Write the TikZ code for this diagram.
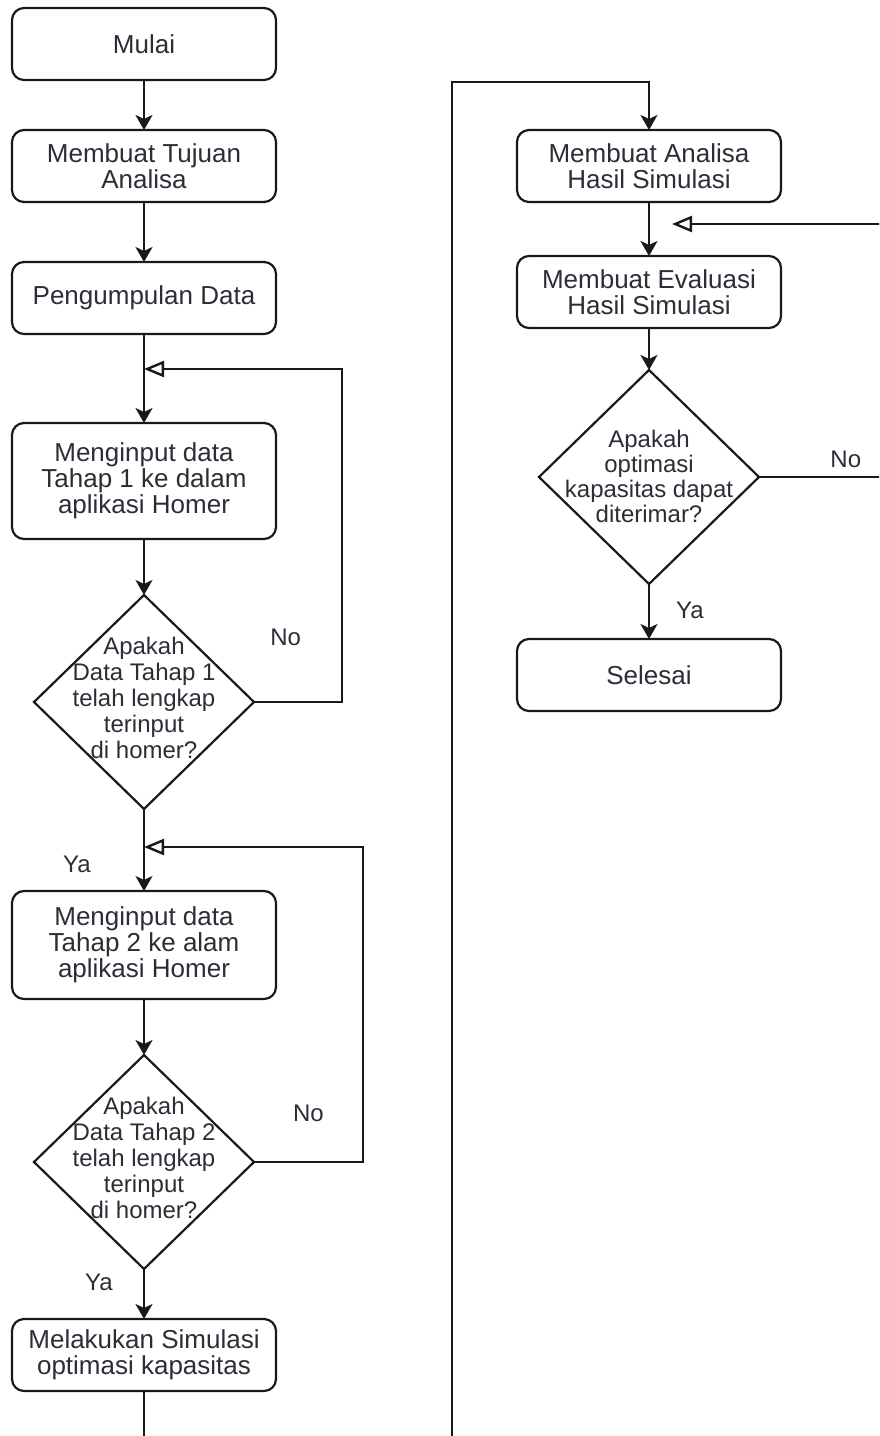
\documentclass[tikz,border=0pt]{standalone}
\usepackage{fontspec}
\setmainfont{Liberation Sans}
\usetikzlibrary{shapes.geometric, arrows.meta, positioning}
\definecolor{garis}{RGB}{25,25,25}
\definecolor{teks}{RGB}{45,45,55}
\newcommand{\tanya}[2][0pt]{\makebox[0pt]{\smash{\raisebox{#1}{\begin{tabular}{@{}c@{}}#2\end{tabular}}}}}
\tikzset{
  proses/.style={rectangle, rounded corners=6pt, draw=garis, fill=white,
    line width=1.1pt, outer sep=0pt, minimum width=132pt, minimum height=36pt,
    align=center, text=teks, font=\fontsize{13}{13}\selectfont},
  keputusan/.style={diamond, draw=garis, fill=white, line width=1.1pt, outer sep=0pt,
    minimum width=110pt, minimum height=107pt, inner sep=0pt,
    text=teks, font=\fontsize{12}{13}\selectfont},
  panah/.style={-{Stealth[length=7.5pt, width=8.5pt, inset=2pt]}, line width=1.2pt, color=garis},
  balik/.style={-{Triangle[open, length=10pt, width=8pt]}, line width=1.2pt, color=garis},
  etiket/.style={font=\fontsize{12}{12}\selectfont, text=teks, inner sep=0pt}
}
\begin{document}
\begin{tikzpicture}[x=0.5pt, y=-0.5pt]
  \useasboundingbox (0,0) rectangle (879,1436);
  \clip (0,0) rectangle (879,1436);
  % kolom kiri
  \node[proses] (mulai) at (144,44) {Mulai};
  \node[proses, below=25pt of mulai] (tujuan) {Membuat Tujuan\\Analisa};
  \node[proses, below=30pt of tujuan] (data) {Pengumpulan Data};
  \node[proses, below=44.5pt of data, minimum height=58pt] (input1)
    {Menginput data\\Tahap 1 ke dalam\\aplikasi Homer};
  \node[keputusan, below=28pt of input1] (cek1)
    {\tanya[-2.5pt]{Apakah\\Data Tahap 1\\telah lengkap\\terinput\\di homer?}};
  \node[proses, below=41pt of cek1, minimum height=54pt] (input2)
    {Menginput data\\Tahap 2 ke alam\\aplikasi Homer};
  \node[keputusan, below=28pt of input2] (cek2)
    {\tanya[-2.5pt]{Apakah\\Data Tahap 2\\telah lengkap\\terinput\\di homer?}};
  \node[proses, below=25pt of cek2] (simulasi) {Melakukan Simulasi\\optimasi kapasitas};
  % kolom kanan
  \node[proses] (analisa) at (649,166) {Membuat Analisa\\Hasil Simulasi};
  \node[proses, below=27pt of analisa] (evaluasi) {Membuat Evaluasi\\Hasil Simulasi};
  \node[keputusan, below=21pt of evaluasi, font=\fontsize{12}{12.5}\selectfont] (cek3)
    {\tanya[-4.5pt]{Apakah\\optimasi\\kapasitas dapat\\diterimar?}};
  \node[proses, below=27.5pt of cek3] (selesai) {Selesai};
  % titik temu
  \coordinate (j1) at ([yshift=27pt]input1.north);
  \coordinate (j2) at ([yshift=22pt]input2.north);
  \coordinate (j3) at ([shift={(11.5pt,-11pt)}]analisa.south);
  \coordinate (belok) at (452,82);
  % panah
  \draw[panah] (mulai) -- (tujuan);
  \draw[panah] (tujuan) -- (data);
  \draw[panah] (data) -- (input1);
  \draw[panah] (input1) -- (cek1);
  \draw[balik] (cek1.east) -- node[etiket, pos=0.36, yshift=32.5pt] {No} ++(88,0) |- (j1);
  \draw[panah] (cek1) -- node[etiket, pos=0.68, left=26pt] {Ya} (input2);
  \draw[panah] (input2) -- (cek2);
  \draw[balik] (cek2.east) -- node[etiket, pos=0.5, yshift=24.5pt] {No} ++(109,0) |- (j2);
  \draw[panah] (cek2) -- node[etiket, pos=0.26, left=15pt] {Ya} (simulasi);
  \draw[panah] (simulasi) -- ++(0,90) -| (belok) -| (analisa.north);
  \draw[panah] (analisa) -- (evaluasi);
  \draw[panah] (evaluasi) -- (cek3);
  \draw[balik] (cek3.east) -- node[etiket, pos=0.62, yshift=9pt] {No} ++(140,0) |- (j3);
  \draw[panah] (cek3) -- node[etiket, pos=0.47, right=13pt] {Ya} (selesai);
\end{tikzpicture}
\end{document}
